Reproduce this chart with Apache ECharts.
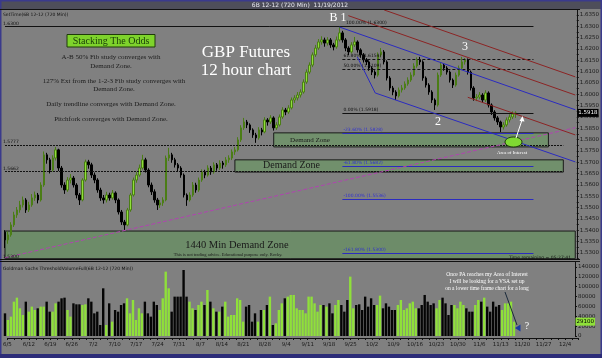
<!DOCTYPE html>
<html>
<head>
<meta charset="utf-8">
<script src="https://cdn.jsdelivr.net/npm/echarts@6/dist/echarts.min.js"></script>
<style>
  html, body { margin: 0; padding: 0; background: #808080; }
  #chart { width: 602px; height: 358px; }
</style>
</head>
<body>
<div id="chart"></div>
<script>
// week labels on the date axis, one per week starting 6/5
const weekLabels = ['6/5','6/12','6/19','6/26','7/2','7/10','7/17','7/24','7/31','8/7','8/14','8/21','8/28','9/4',
  '9/11','9/18','9/25','10/2','10/9','10/16','10/23','10/30','11/6','11/13','11/20','11/27','12/4'];

// 12 hour bars of 6B 12-12
const opens = [
  1.5392,1.5358,1.5380,1.5424,1.5468,1.5490,1.5512,1.5534,1.5490,1.5512,
  1.5543,1.5556,1.5534,1.5600,1.5733,1.5711,1.5666,1.5719,1.5755,1.5675,
  1.5600,1.5578,1.5622,1.5631,1.5600,1.5556,1.5534,1.5622,1.5702,1.5689,
  1.5644,1.5622,1.5578,1.5543,1.5534,1.5556,1.5543,1.5565,1.5534,1.5481,
  1.5437,1.5424,1.5490,1.5556,1.5622,1.5644,1.5675,1.5711,1.5666,1.5600,
  1.5570,1.5534,1.5512,1.5521,1.5534,1.5719,1.5733,1.5711,1.5689,1.5675,
  1.5644,1.5556,1.5534,1.5556,1.5600,1.5578,1.5622,1.5658,1.5644,1.5675,
  1.5658,1.5689,1.5675,1.5697,1.5689,1.5711,1.5719,1.5746,1.5755,1.5799,
  1.5852,1.5878,1.5865,1.5843,1.5821,1.5808,1.5843,1.5834,1.5887,1.5878,
  1.5896,1.5852,1.5865,1.5900,1.5931,1.5922,1.5940,1.5975,1.5984,1.5997,
  1.6010,1.6054,1.6098,1.6129,1.6174,1.6204,1.6231,1.6240,1.6226,1.6240,
  1.6218,1.6209,1.6240,1.6271,1.6240,1.6204,1.6187,1.6218,1.6231,1.6196,
  1.6174,1.6152,1.6143,1.6116,1.6098,1.6085,1.6174,1.6187,1.6143,1.6072,
  1.6028,1.6010,1.5993,1.6019,1.6028,1.6046,1.6063,1.6085,1.6125,1.6152,
  1.6143,1.6072,1.6041,1.6010,1.5975,1.5953,1.6085,1.6129,1.6116,1.6098,
  1.6063,1.6041,1.6085,1.6116,1.6143,1.6152,1.6098,1.6028,1.5984,1.5988,
  1.5997,1.5975,1.6006,1.5953,1.5922,1.5896,1.5878,1.5856,1.5865,1.5887,
  1.5900,1.5913
];
const closes = [
  1.5358,1.5380,1.5424,1.5468,1.5490,1.5512,1.5534,1.5490,1.5512,1.5543,
  1.5556,1.5534,1.5600,1.5733,1.5711,1.5666,1.5719,1.5755,1.5675,1.5600,
  1.5578,1.5622,1.5631,1.5600,1.5556,1.5534,1.5622,1.5702,1.5689,1.5644,
  1.5622,1.5578,1.5543,1.5534,1.5556,1.5543,1.5565,1.5534,1.5481,1.5437,
  1.5424,1.5490,1.5556,1.5622,1.5644,1.5675,1.5711,1.5666,1.5600,1.5570,
  1.5534,1.5512,1.5521,1.5534,1.5719,1.5733,1.5711,1.5689,1.5675,1.5644,
  1.5556,1.5534,1.5556,1.5600,1.5578,1.5622,1.5658,1.5644,1.5675,1.5658,
  1.5689,1.5675,1.5697,1.5689,1.5711,1.5719,1.5746,1.5755,1.5799,1.5852,
  1.5878,1.5865,1.5843,1.5821,1.5808,1.5843,1.5834,1.5887,1.5878,1.5896,
  1.5852,1.5865,1.5900,1.5931,1.5922,1.5940,1.5975,1.5984,1.5997,1.6010,
  1.6054,1.6098,1.6129,1.6174,1.6204,1.6231,1.6240,1.6226,1.6240,1.6218,
  1.6209,1.6240,1.6271,1.6240,1.6204,1.6187,1.6218,1.6231,1.6196,1.6174,
  1.6152,1.6143,1.6116,1.6098,1.6085,1.6174,1.6187,1.6143,1.6072,1.6028,
  1.6010,1.5993,1.6019,1.6028,1.6046,1.6063,1.6085,1.6125,1.6152,1.6143,
  1.6072,1.6041,1.6010,1.5975,1.5953,1.6085,1.6129,1.6116,1.6098,1.6063,
  1.6041,1.6085,1.6116,1.6143,1.6152,1.6098,1.6028,1.5984,1.5988,1.5997,
  1.5975,1.6006,1.5953,1.5922,1.5896,1.5878,1.5856,1.5865,1.5887,1.5900,
  1.5913,1.5918
];
const lows = [
  1.5322,1.5341,1.5372,1.5415,1.5455,1.5478,1.5501,1.5477,1.5481,1.5504,
  1.5530,1.5519,1.5527,1.5592,1.5694,1.5651,1.5660,1.5708,1.5662,1.5588,
  1.5561,1.5570,1.5607,1.5589,1.5541,1.5512,1.5528,1.5615,1.5672,1.5631,
  1.5608,1.5566,1.5530,1.5518,1.5523,1.5531,1.5535,1.5520,1.5470,1.5424,
  1.5402,1.5418,1.5482,1.5549,1.5610,1.5636,1.5668,1.5655,1.5590,1.5556,
  1.5522,1.5490,1.5499,1.5508,1.5528,1.5706,1.5698,1.5677,1.5660,1.5632,
  1.5545,1.5508,1.5527,1.5548,1.5566,1.5570,1.5614,1.5630,1.5637,1.5645,
  1.5650,1.5663,1.5666,1.5672,1.5680,1.5698,1.5710,1.5733,1.5748,1.5790,
  1.5843,1.5851,1.5830,1.5808,1.5786,1.5800,1.5819,1.5828,1.5862,1.5869,
  1.5840,1.5843,1.5858,1.5892,1.5908,1.5914,1.5933,1.5962,1.5973,1.5986,
  1.6003,1.6046,1.6089,1.6120,1.6165,1.6196,1.6219,1.6210,1.6215,1.6205,
  1.6194,1.6201,1.6233,1.6228,1.6190,1.6172,1.6180,1.6209,1.6184,1.6161,
  1.6140,1.6129,1.6104,1.6085,1.6070,1.6078,1.6165,1.6132,1.6061,1.6016,
  1.5996,1.5975,1.5986,1.6008,1.6020,1.6038,1.6055,1.6078,1.6117,1.6130,
  1.6060,1.6030,1.5998,1.5962,1.5931,1.5946,1.6077,1.6104,1.6087,1.6052,
  1.6028,1.6034,1.6078,1.6108,1.6131,1.6087,1.6017,1.5972,1.5970,1.5978,
  1.5962,1.5966,1.5942,1.5909,1.5884,1.5865,1.5834,1.5845,1.5857,1.5876,
  1.5891,1.5896
];
const highs = [
  1.5401,1.5395,1.5436,1.5482,1.5503,1.5530,1.5549,1.5542,1.5526,1.5560,
  1.5571,1.5565,1.5612,1.5748,1.5742,1.5720,1.5731,1.5768,1.5760,1.5684,
  1.5612,1.5635,1.5648,1.5640,1.5608,1.5565,1.5630,1.5712,1.5711,1.5698,
  1.5655,1.5630,1.5588,1.5556,1.5570,1.5566,1.5578,1.5572,1.5541,1.5490,
  1.5446,1.5499,1.5565,1.5633,1.5658,1.5690,1.5733,1.5720,1.5674,1.5611,
  1.5581,1.5543,1.5534,1.5546,1.5730,1.5764,1.5742,1.5720,1.5697,1.5683,
  1.5651,1.5563,1.5568,1.5613,1.5610,1.5633,1.5669,1.5667,1.5687,1.5684,
  1.5700,1.5697,1.5709,1.5706,1.5723,1.5731,1.5757,1.5768,1.5811,1.5864,
  1.5896,1.5887,1.5872,1.5850,1.5830,1.5855,1.5852,1.5899,1.5895,1.5908,
  1.5903,1.5877,1.5911,1.5943,1.5940,1.5952,1.5986,1.5996,1.6010,1.6022,
  1.6066,1.6110,1.6141,1.6185,1.6218,1.6244,1.6256,1.6250,1.6252,1.6248,
  1.6227,1.6255,1.6297,1.6280,1.6248,1.6212,1.6230,1.6253,1.6238,1.6203,
  1.6182,1.6160,1.6150,1.6124,1.6106,1.6185,1.6204,1.6195,1.6150,1.6080,
  1.6037,1.6018,1.6030,1.6041,1.6057,1.6075,1.6097,1.6137,1.6163,1.6165,
  1.6150,1.6079,1.6049,1.6018,1.5982,1.6096,1.6141,1.6138,1.6124,1.6105,
  1.6070,1.6096,1.6127,1.6165,1.6160,1.6158,1.6105,1.6036,1.6001,1.6010,
  1.6005,1.6018,1.6013,1.5960,1.5930,1.5904,1.5884,1.5877,1.5898,1.5912,
  1.5925,1.5925
];
const volumes = [
  46000,32500,39300,69700,77800,56200,42600,69700,49400,59600,
  52800,56200,59600,59600,69700,49400,49400,66300,69700,76500,
  77800,52800,39300,66300,64300,64300,62900,64300,76500,69700,
  46000,49400,22300,96800,22300,66300,29100,52800,49400,62900,
  66300,76500,46000,73100,32500,56200,46000,69700,46000,39300,
  69700,62900,52800,76500,130600,96800,49400,79900,79900,79900,
  134000,79900,69700,56200,52800,62900,69700,62900,93400,69700,
  56200,49400,49400,59600,69700,39300,42600,42600,76500,73100,
  29100,59600,62900,29100,46000,29100,52800,52800,62900,79900,
  22300,25700,52800,66300,76500,79900,83300,
  83300,56200,52800,52800,46000,79900,79900,66300,49400,62900,
  62900,59600,66300,46000,62900,73100,62900,49400,73100,120500,
  56200,62900,64300,52800,79900,59600,76500,62900,62900,81900,
  56200,66300,59600,52800,52800,62900,73100,52800,56200,66300,
  69700,56200,56200,62900,83300,69700,62900,66300,56200,73100,
  77800,66300,42600,62900,62900,56200,69700,62900,56200,49400,
  49400,62900,73100,69700,77800,59600,49400,69700,59600,62900,
  52800,66300,66300,69700,29100
];

// Fibonacci study levels (price) and their names
const fibNames = ['100.00%','61.80%','50.00%','0.00%','-23.60%','-61.80%','-100.00%','-161.80%'];
const fibPrices = [1.6300, 1.6154, 1.6109, 1.5918, 1.5828, 1.5682, 1.5536, 1.5300];
// demand zones: bar index range and price range
const zoneFrom = [90, 77, 0];
const zoneTo = [182, 187, 191];
const zoneHigh = [1.5830, 1.5711, 1.5397];
const zoneLow = [1.5768, 1.5657, 1.5275];
// dotted horizontal levels
const dotPrices = [1.5777, 1.5662];
// trendline and pitchfork lines as [barIndex, price] pairs
const trendLine = [[0, 1.5279], [191, 1.5853]];
const blueLines = [[[112, 1.6297], [191, 1.5932]], [[118, 1.6165], [124, 1.6006]], [[124, 1.6006], [191, 1.5702]]];
const redLines = [[[127, 1.6372], [191, 1.6077]], [[115, 1.6347], [191, 1.5997]], [[155, 1.5987], [191, 1.5821]]];

const N_BARS = 192;
const UP = '#8fe03a';
const SERIF = '"Liberation Serif", "DejaVu Serif", serif';
const SANS = '"DejaVu Sans", "Liberation Sans", sans-serif';
const BLUE = '#2b2bc0', RED = '#8c2424', PURPLE = '#b044b0';

const cats = Array.from({ length: N_BARS }, (_, i) => String(i));
const candles = opens.map((o, i) => [o, closes[i], lows[i], highs[i]]);
const volData = volumes.map((v, i) => ({
  value: v,
  itemStyle: { color: closes[i] >= opens[i] ? UP : '#050505' }
}));

function seg(a, b, color, type, width, label) {
  return [
    { coord: a, lineStyle: { color, type, width }, label: label || { show: false } },
    { coord: b }
  ];
}

const lines = [];
fibPrices.forEach((p, k) => {
  const neg = k >= 4;
  const dashed = k === 1 || k === 2;
  const from = k === 0 ? 0 : 113;
  lines.push(seg([from, p], [177, p], neg ? BLUE : '#111', dashed ? [3, 2] : 'solid', 1, {
    show: true, position: 'insideStartTop', distance: 1,
    formatter: fibNames[k] + ' (' + p.toFixed(4) + ')',
    color: neg ? '#3030d0' : '#111', fontSize: 4.5, fontFamily: SANS,
    offset: k === 0 ? [340, 0] : [0, 0]
  }));
});
dotPrices.forEach(p => lines.push(seg([0, p], [187, p], '#111', [2, 1], 1)));
lines.push(seg(trendLine[0], trendLine[1], PURPLE, [4, 2], 1));
blueLines.forEach(l => lines.push(seg(l[0], l[1], BLUE, 'solid', 1)));
redLines.forEach(l => lines.push(seg(l[0], l[1], RED, 'solid', 1)));
// last price tag on the price axis
const last = closes.length - 1;
lines.push(seg([last, closes[last]], [191, closes[last]], 'rgba(0,0,0,0)', 'solid', 0, {
  show: true, position: 'end', distance: 2, formatter: closes[last].toFixed(4),
  color: '#fff', backgroundColor: '#000', padding: [1, 1], fontSize: 5.5, fontFamily: SANS
}));

const zones = zoneFrom.map((f, k) => [
  { coord: [f, zoneHigh[k]], itemStyle: { color: k === 2 ? '#6d8c69' : '#71906c', borderColor: '#1a1a1a', borderWidth: 1 } },
  { coord: [zoneTo[k], zoneLow[k]] }
]);

const chart = echarts.init(document.getElementById('chart'));

const txt = (x, y, text, size, fill, align, font) => ({
  type: 'text', x, y, z: 100, silent: true,
  style: { text, fill, font: size + 'px ' + (font || SERIF), textAlign: align || 'center', textVerticalAlign: 'middle' }
});

chart.setOption({
  animation: false,
  backgroundColor: '#808080',
  grid: [
    { left: 3.5, right: 22.5, top: 9.3, height: 249.4 },
    { left: 3.5, right: 22.5, top: 262.1, height: 73.9 },
    { left: 5, right: 24, top: 335, height: 3 }
  ],
  xAxis: [
    { type: 'category', gridIndex: 0, data: cats, show: false },
    { type: 'category', gridIndex: 1, data: cats, show: false },
    {
      type: 'value', gridIndex: 2, min: 0, max: 26.6, interval: 1 / 3,
      axisLine: { lineStyle: { color: '#111' } },
      axisTick: { length: 2, lineStyle: { color: '#111' } },
      splitLine: { show: false },
      axisLabel: {
        fontSize: 5.5, color: '#1a1a1a', fontFamily: SANS, margin: 4,
        formatter: v => { const k = Math.round(v); return Math.abs(v - k) < 0.01 ? (weekLabels[k] || '') : ''; }
      }
    }
  ],
  yAxis: [
    {
      type: 'value', gridIndex: 0, position: 'right', min: 1.5275, max: 1.6375, interval: 0.0025,
      axisLine: { show: true, lineStyle: { color: '#111' } },
      axisTick: { show: true, length: 2, lineStyle: { color: '#111' } },
      splitLine: { show: false },
      axisLabel: {
        fontSize: 5.5, color: '#1a1a1a', fontFamily: SANS, margin: 3,
        formatter: v => Math.abs(v * 200 - Math.round(v * 200)) < 1e-6 ? v.toFixed(4) : ''
      }
    },
    {
      type: 'value', gridIndex: 1, position: 'right', min: 0, max: 150000, interval: 20000,
      axisLine: { show: true, lineStyle: { color: '#111' } },
      axisTick: { show: true, length: 2, lineStyle: { color: '#111' } },
      splitLine: { show: false },
      axisLabel: { fontSize: 5.5, color: '#1a1a1a', fontFamily: SANS, margin: 3, showMaxLabel: false, formatter: v => String(v) }
    },
    { type: 'value', gridIndex: 2, show: false }
  ],
  series: [
    {
      type: 'candlestick', xAxisIndex: 0, yAxisIndex: 0, data: candles, barWidth: 2, clip: false,
      itemStyle: { color: UP, color0: '#000', borderColor: '#4b7d16', borderColor0: '#000', borderWidth: 1 },
      markArea: { silent: true, data: zones },
      markLine: { silent: true, symbol: ['none', 'none'], data: lines }
    },
    {
      type: 'bar', xAxisIndex: 1, yAxisIndex: 1, data: volData, barWidth: '80%', clip: false,
      markLine: {
        silent: true, symbol: ['none', 'none'],
        data: [[
          { coord: [last, volumes[last]], lineStyle: { width: 0, color: 'rgba(0,0,0,0)' },
            label: { show: true, position: 'end', distance: 2, formatter: String(volumes[last]),
              color: '#000', backgroundColor: UP, padding: [1, 1], fontSize: 5.5, fontFamily: SANS } },
          { coord: [191, volumes[last]] }
        ]]
      }
    }
  ],
  graphic: [
    { type: 'rect', z: 90, shape: { x: 0, y: 0, width: 602, height: 9 }, style: { fill: '#4e4e5a' } },
    { type: 'rect', z: 90, shape: { x: 0, y: 0, width: 602, height: 1.5 }, style: { fill: '#3a3a8c' } },
    { type: 'rect', z: 90, shape: { x: 0, y: 0, width: 1.5, height: 358 }, style: { fill: '#3a3a8c' } },
    { type: 'rect', z: 90, shape: { x: 600.5, y: 0, width: 1.5, height: 358 }, style: { fill: '#3a3a8c' } },
    { type: 'rect', z: 90, shape: { x: 0, y: 354, width: 602, height: 4 }, style: { fill: '#2c2c78' } },
    { type: 'line', z: 90, shape: { x1: 0, y1: 9.5, x2: 580, y2: 9.5 }, style: { stroke: '#111', lineWidth: 1 } },
    { type: 'line', z: 90, shape: { x1: 0, y1: 259.5, x2: 580, y2: 259.5 }, style: { stroke: '#111', lineWidth: 1 } },
    { type: 'line', z: 90, shape: { x1: 0, y1: 261.5, x2: 580, y2: 261.5 }, style: { stroke: '#111', lineWidth: 1 } },
    txt(300, 5, '6B 12-12 (720 Min)  11/19/2012', 6, '#e8e8f0', 'center', SANS),
    txt(3, 15, 'SetTime(6B 12-12 (720 Min))', 4.5, '#111', 'left', SANS),
    txt(3, 24, '1.6300', 4.5, '#111', 'left', SANS),
    txt(3, 142, '1.5777', 4.5, '#111', 'left', SANS),
    txt(3, 169, '1.5662', 4.5, '#111', 'left', SANS),
    txt(3, 257, '1.5300', 4.5, '#111', 'left', SANS),
    txt(571, 258, 'Time remaining = 05:27:41', 4.5, '#111', 'right', SANS),
    txt(3, 269, 'Goldman Sachs ThresholdVolumeFull(6B 12-12 (720 Min))', 4.5, '#111', 'left', SANS),
    // stacking the odds box
    { type: 'rect', z: 95, shape: { x: 67, y: 34.5, width: 88, height: 12.5 }, style: { fill: '#7ed32c', stroke: '#1e3a0a', lineWidth: 1 } },
    txt(111, 41, 'Stacking The Odds', 10, '#173d07'),
    txt(111, 57, 'A-B 50% Fib study converges with', 7, '#1c1c1c'),
    txt(111, 66, 'Demand Zone.', 7, '#1c1c1c'),
    txt(114, 81, '127% Ext from the 1-2-3 Fib study converges with', 7, '#1c1c1c'),
    txt(114, 89, 'Demand Zone.', 7, '#1c1c1c'),
    txt(111, 104, 'Daily trendline converges with Demand Zone.', 7, '#1c1c1c'),
    txt(111, 119, 'Pitchfork converges with Demand Zone.', 7, '#1c1c1c'),
    txt(246, 53, 'GBP Futures', 17, '#ffffff'),
    txt(246, 71, '12 hour chart', 17, '#ffffff'),
    txt(338, 18, 'B 1', 12, '#ffffff'),
    txt(465, 47, '3', 12, '#ffffff'),
    txt(438, 122, '2', 12, '#ffffff'),
    txt(310, 140, 'Demand Zone', 7, '#1a1a1a'),
    txt(263, 165.5, 'Demand Zone', 10, '#1a1a1a', 'left'),
    txt(237, 245, '1440 Min Demand Zone', 10.5, '#1a1a1a'),
    txt(228, 255, 'This is not trading advice. Educational purpose only. Rocky.', 4.5, '#1a1a1a'),
    { type: 'ellipse', z: 96, shape: { cx: 513.5, cy: 142, rx: 8.5, ry: 5 }, style: { fill: '#7fd932', stroke: '#1f3a0c', lineWidth: 1 } },
    txt(512, 153, 'Area of Interest', 4.8, '#ffffff'),
    { type: 'line', z: 97, shape: { x1: 516, y1: 138, x2: 522, y2: 120 }, style: { stroke: '#ffffff', lineWidth: 1 } },
    { type: 'polygon', z: 97, shape: { points: [[522.5, 116], [519.5, 121], [524.5, 121.5]] }, style: { fill: '#ffffff' } },
    txt(487, 275, 'Once PA reaches my Area of Interest', 5.5, '#ffffff'),
    txt(487, 282, 'I will be looking for a VSA set up', 5.5, '#ffffff'),
    txt(487, 289, 'on a lower time frame chart for a long', 5.5, '#ffffff'),
    { type: 'line', z: 97, shape: { x1: 505, y1: 292, x2: 517, y2: 325 }, style: { stroke: '#1a2a3a', lineWidth: 1 } },
    { type: 'polygon', z: 97, shape: { points: [[515, 328], [520.5, 324.5], [520.5, 331.5]] }, style: { fill: '#1a3aa0' } },
    txt(527, 326, '?', 10, '#ffffff')
  ]
});
</script>
</body>
</html>
